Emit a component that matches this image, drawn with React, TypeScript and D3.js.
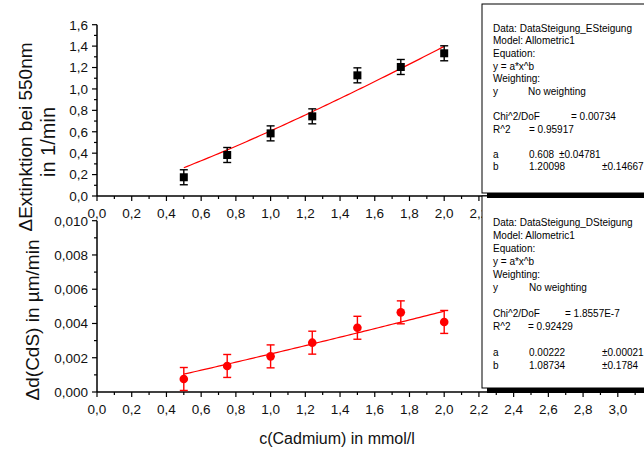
import React from "react";
import * as d3 from "d3";

// Cadmium concentration (mmol/l) of each measurement
const concentration = [0.5, 0.75, 1.0, 1.24, 1.5, 1.75, 2.0];
// Extinction slope at 550 nm (1/min) and its error
const extinction = [0.175, 0.383, 0.585, 0.744, 1.127, 1.205, 1.333];
const extinctionErr = [0.07, 0.07, 0.07, 0.07, 0.07, 0.07, 0.07];
// CdS layer growth (µm/min) and its error
const growth = [0.00076, 0.00152, 0.00208, 0.00288, 0.00375, 0.00465, 0.00409];
const growthErr = [0.00067, 0.00067, 0.00067, 0.00067, 0.00067, 0.00067, 0.00067];

// Allometric fit parameters y = a*x^b
const fitExtinction = { a: 0.608, b: 1.20098 };
const fitGrowth = { a: 0.00222, b: 1.08734 };

const xTicks = d3.range(0, 3.01, 0.2);
const xTicksUpper = d3.range(0, 2.21, 0.2);
const xMinor = d3.range(0, 3.21, 0.1);
const yTopTicks = d3.range(0, 1.61, 0.2);
const yTopMinor = d3.range(0, 1.61, 0.1);
const yBotTicks = d3.range(0, 0.01001, 0.002);
const yBotMinor = d3.range(0, 0.01001, 0.001);

const boxTop = [
  ["Data: DataSteigung_ESteigung"],
  ["Model: Allometric1"],
  ["Equation:"],
  ["y = a*x^b"],
  ["Weighting:"],
  ["y", "No weighting"],
  [],
  ["Chi^2/DoF", "= 0.00734"],
  ["R^2", "= 0.95917"],
  [],
  ["a", "0.608", "\u00b10.04781"],
  ["b", "1.20098", "\u00b10.14667"],
];
const boxBottom = [
  ["Data: DataSteigung_DSteigung"],
  ["Model: Allometric1"],
  ["Equation:"],
  ["y = a*x^b"],
  ["Weighting:"],
  ["y", "No weighting"],
  [],
  ["Chi^2/DoF", "= 1.8557E-7"],
  ["R^2", "= 0.92429"],
  [],
  ["a", "0.00222", "\u00b10.00021"],
  ["b", "1.08734", "\u00b10.1784"],
];

const FONT = "'Liberation Sans', Arial, Helvetica, sans-serif";
const comma = (s: string) => s.replace(".", ",");

export default function App() {
  const x = d3.scaleLinear().domain([0, 3.2]).range([97, 97 + 3.2 * 173.6]);
  const yTop = d3.scaleLinear().domain([0, 1.6]).range([196, 24.7]);
  const yBot = d3.scaleLinear().domain([0, 0.01]).range([392, 220.7]);
  const x0 = x(0);
  const xEnd = x(3.2);

  const fitX = d3.range(0.5, 2.0001, 0.02);
  const lineTop = d3
    .line<number>()
    .x((v) => x(v))
    .y((v) => yTop(fitExtinction.a * Math.pow(v, fitExtinction.b)));
  const lineBot = d3
    .line<number>()
    .x((v) => x(v))
    .y((v) => yBot(fitGrowth.a * Math.pow(v, fitGrowth.b)));

  const xAxis = (yBase: number, labels: number[], key: string) => (
    <g key={key}>
      <line x1={x0} x2={xEnd} y1={yBase} y2={yBase} stroke="#000" strokeWidth={1.5} />
      {xMinor.map((t, i) => (
        <line key={"m" + i} x1={x(t)} x2={x(t)} y1={yBase} y2={yBase + (i % 2 === 0 ? 5 : 3)} stroke="#000" strokeWidth={1.2} />
      ))}
      {labels.map((t, i) => (
        <text key={"l" + i} x={x(t)} y={yBase + 22} textAnchor="middle" fontSize={13.5} fontFamily={FONT} fill="#111">
          {comma(d3.format(".1f")(t))}
        </text>
      ))}
    </g>
  );

  const yAxis = (
    scale: d3.ScaleLinear<number, number>,
    major: number[],
    minor: number[],
    fmt: string,
    key: string
  ) => {
    const [d0, d1] = scale.domain();
    return (
      <g key={key}>
        <line x1={x0} x2={x0} y1={scale(d0)} y2={scale(d1)} stroke="#000" strokeWidth={1.5} />
        {minor.map((t, i) => (
          <line key={"m" + i} x1={x0} x2={x0 - (i % 2 === 0 ? 5 : 3)} y1={scale(t)} y2={scale(t)} stroke="#000" strokeWidth={1.2} />
        ))}
        {major.map((t, i) => (
          <text key={"l" + i} x={x0 - 9} y={scale(t) + 4.8} textAnchor="end" fontSize={13.5} fontFamily={FONT} fill="#111">
            {comma(d3.format(fmt)(t))}
          </text>
        ))}
      </g>
    );
  };

  const renderBox = (
    lines: string[][],
    top: number,
    bottom: number,
    firstY: number,
    step: number,
    cols: number[][],
    key: string
  ) => (
    <g key={key}>
      <rect x={487} y={top + 5} width={200} height={bottom - top} fill="#000" />
      <rect x={482} y={top} width={200} height={bottom - top} fill="#fff" stroke="#000" strokeWidth={1} />
      {lines.map((cells, i) =>
        cells.map((c, j) => (
          <text key={i + "-" + j} x={cols[i][j]} y={firstY + i * step} fontSize={10} fontFamily={FONT} fill="#000">
            {c}
          </text>
        ))
      )}
    </g>
  );

  const colsTop = [
    [493], [493], [493], [493], [493], [493, 528], [], [493, 571], [493, 529], [], [493, 529, 559], [493, 529, 602],
  ];
  const colsBot = [
    [493], [493], [493], [493], [493], [493, 529], [], [493, 565], [493, 528], [], [493, 529, 602], [493, 529, 602],
  ];

  return (
    <svg width={644} height={450} style={{ position: "absolute", left: 0, top: 0, background: "#fff" }}>
      <rect width={644} height={450} fill="#fff" />

      {/* upper panel: extinction slope */}
      {yAxis(yTop, yTopTicks, yTopMinor, ".1f", "yTop")}
      {xAxis(yTop(0), xTicksUpper, "xTop")}
      <path d={lineTop(fitX) || ""} fill="none" stroke="#ff0000" strokeWidth={1.2} />
      {concentration.map((c, i) => {
        const cx = x(c);
        const lo = yTop(extinction[i] - extinctionErr[i]);
        const hi = yTop(extinction[i] + extinctionErr[i]);
        return (
          <g key={"sq" + i} stroke="#000" strokeWidth={1.4}>
            <line x1={cx} x2={cx} y1={lo} y2={hi} />
            <line x1={cx - 4} x2={cx + 4} y1={lo} y2={lo} />
            <line x1={cx - 4} x2={cx + 4} y1={hi} y2={hi} />
            <rect x={cx - 4} y={yTop(extinction[i]) - 4} width={8} height={8} fill="#000" stroke="none" />
          </g>
        );
      })}

      {/* lower panel: CdS growth */}
      {yAxis(yBot, yBotTicks, yBotMinor, ".3f", "yBot")}
      {xAxis(yBot(0), xTicks, "xBot")}
      <path d={lineBot(fitX) || ""} fill="none" stroke="#ff0000" strokeWidth={1.2} />
      {concentration.map((c, i) => {
        const cx = x(c);
        const lo = yBot(growth[i] - growthErr[i]);
        const hi = yBot(growth[i] + growthErr[i]);
        return (
          <g key={"ci" + i} stroke="#ff0000" strokeWidth={1.4}>
            <line x1={cx} x2={cx} y1={lo} y2={hi} />
            <line x1={cx - 4} x2={cx + 4} y1={lo} y2={lo} />
            <line x1={cx - 4} x2={cx + 4} y1={hi} y2={hi} />
            <circle cx={cx} cy={yBot(growth[i])} r={4.3} fill="#ff0000" stroke="none" />
          </g>
        );
      })}

      {/* axis titles */}
      <text transform="translate(25,137) rotate(-90)" textAnchor="middle" dominantBaseline="central" fontSize={19} fontFamily={FONT} fill="#111">
        {"\u0394Extinktion bei 550nm"}
      </text>
      <text transform="translate(48,142) rotate(-90)" textAnchor="middle" dominantBaseline="central" fontSize={20} fontFamily={FONT} fill="#111">
        in 1/min
      </text>
      <text transform="translate(32,320) rotate(-90)" textAnchor="middle" dominantBaseline="central" fontSize={19} fontFamily={FONT} fill="#111">
        {"\u0394d(CdS) in \u00b5m/min"}
      </text>
      <text x={337} y={444} textAnchor="middle" fontSize={16} fontFamily={FONT} fill="#111">
        c(Cadmium) in mmol/l
      </text>

      {/* fit result boxes */}
      {renderBox(boxBottom, 196, 388, 226.2, 13, colsBot, "boxBot")}
      {renderBox(boxTop, 4, 193, 31.8, 12.6, colsTop, "boxTop")}
    </svg>
  );
}
